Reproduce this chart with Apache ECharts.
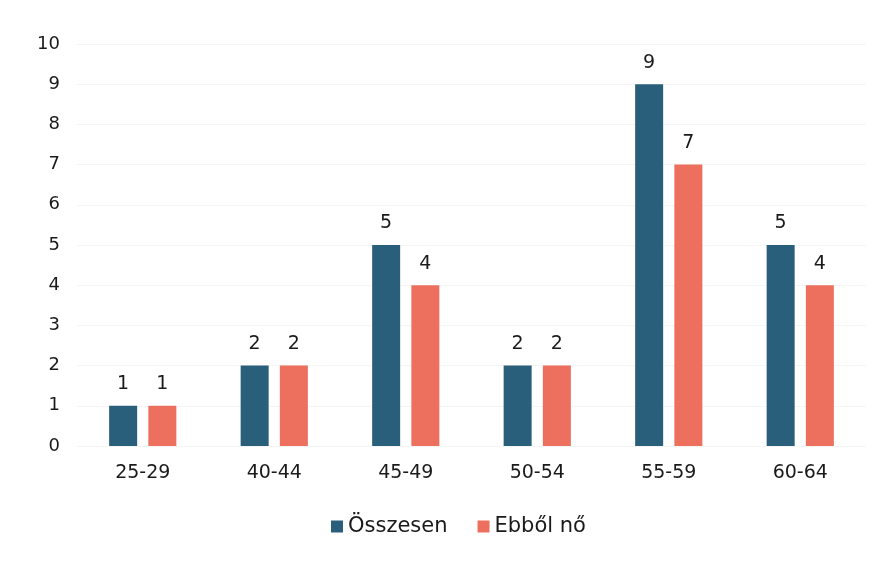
<!DOCTYPE html>
<html><head><meta charset="utf-8">
<script src="https://cdn.jsdelivr.net/npm/echarts@6/dist/echarts.min.js"></script>
<style>html,body{margin:0;padding:0;background:#fff}#c{width:891px;height:562px}</style>
</head><body><div id="c"></div>
<script>
const categories = ['25-29','40-44','45-49','50-54','55-59','60-64'];
const osszesen = [1,2,5,2,9,5];
const ebbolNo = [1,2,4,2,7,4];
const yTicks = [0,1,2,3,4,5,6,7,8,9,10];

const chart = echarts.init(document.getElementById('c'));
const font = 'DejaVu Sans, Verdana, sans-serif';
chart.setOption({
  animation:false,
  textStyle:{fontFamily:font},
  grid:{left:77,right:25,top:44,bottom:116},
  legend:{bottom:20,left:326,itemWidth:12,itemHeight:12,itemGap:30,icon:'rect',
    textStyle:{fontSize:21,color:'#1a1a1a',fontFamily:font},
    data:['Összesen','Ebből nő']},
  xAxis:{type:'category',data:categories,axisLine:{show:false},axisTick:{show:false},
    axisLabel:{fontSize:19,color:'#1a1a1a',margin:18,fontFamily:font}},
  yAxis:{type:'value',min:yTicks[0],max:yTicks[yTicks.length-1],interval:1,
    axisLine:{show:false},axisTick:{show:false},
    splitLine:{lineStyle:{color:'#f5f5f5'}},
    axisLabel:{fontSize:18,color:'#1a1a1a',margin:17,fontFamily:font}},
  series:[
    {name:'Összesen',type:'bar',data:osszesen,barWidth:28,barGap:'40%',
     itemStyle:{color:'#2a5f7b'},
     label:{show:true,position:'top',distance:12,fontSize:19,color:'#1a1a1a',fontFamily:font}},
    {name:'Ebből nő',type:'bar',data:ebbolNo,barWidth:28,
     itemStyle:{color:'#ed705f'},
     label:{show:true,position:'top',distance:12,fontSize:19,color:'#1a1a1a',fontFamily:font}}
  ]
});
</script></body></html>
